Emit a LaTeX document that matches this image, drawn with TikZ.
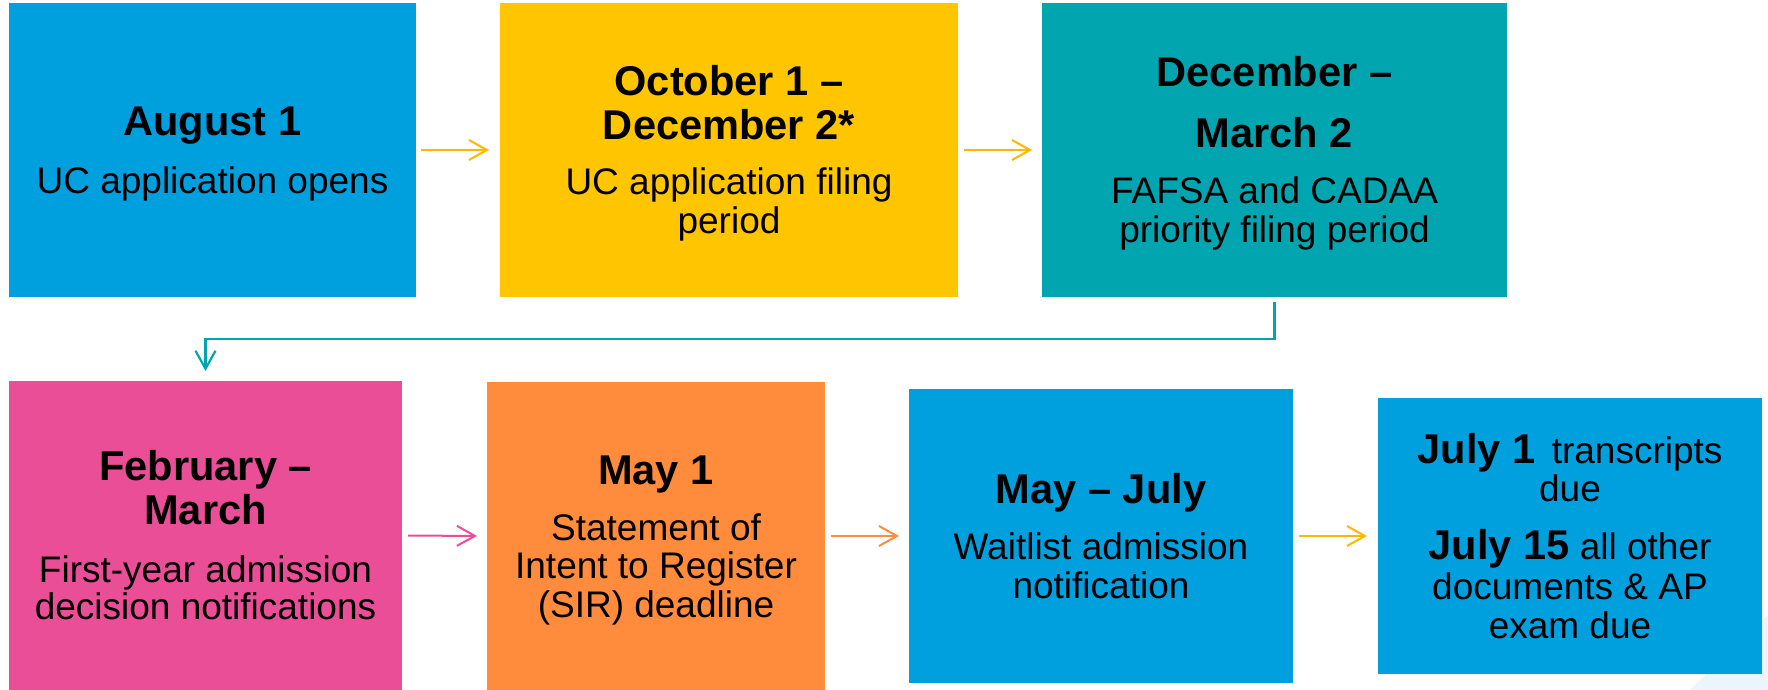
\documentclass[tikz,border=0pt]{standalone}
\usepackage{fontspec}
\setmainfont{Liberation Sans}
\usetikzlibrary{arrows.meta}
\definecolor{cblue}{RGB}{0,160,223}
\definecolor{cyellow}{RGB}{255,198,0}
\definecolor{cteal}{RGB}{0,165,176}
\definecolor{cpink}{RGB}{234,78,150}
\definecolor{corange}{RGB}{255,139,61}
\definecolor{carrowy}{RGB}{255,183,0}
\definecolor{cfaint}{RGB}{236,245,252}
\newcommand\BL[2]{\hbox to 0pt{\hss\vrule height #1 depth 0pt width 0pt\smash{#2}\hss}}
\newcommand\Bf[1]{{\fontsize{20.8pt}{24pt}\selectfont\bfseries #1}}
\newcommand\Rg[1]{{\fontsize{18.5pt}{22pt}\selectfont #1}}
\newcommand\Stk[1]{\vbox{\offinterlineskip #1}}
\tikzset{
  box/.style={inner sep=0pt, outer sep=0pt, text=black},
  arr/.style={line width=1pt, -{Straight Barb[length=9pt,width=10pt]}},
}
\begin{document}
\begin{tikzpicture}[x=0.5pt,y=-0.5pt]
\useasboundingbox (0,0) rectangle (1768,690);
\fill[cfaint] (1690,690) .. controls (1720,660) and (1745,635) .. (1768,615) -- (1768,690) -- cycle;

\node[box, fill=cblue, minimum width=203.5pt, minimum height=147pt] (b1) at (212.5,150)
  {\Stk{\BL{14.5pt}{\Bf{August 1}}
        \BL{28.5pt}{\Rg{UC application opens}}}};
\node[box, fill=cyellow, minimum width=229pt, minimum height=147pt] (b2) at (729,150)
  {\Stk{\BL{14.5pt}{\Bf{October 1 –}}
        \BL{22pt}{\Bf{December 2*}}
        \BL{27.5pt}{\Rg{UC application filing}}
        \BL{19.5pt}{\Rg{period}}}};
\node[box, fill=cteal, minimum width=232.5pt, minimum height=147pt] (b3) at (1274.5,150)
  {\Stk{\BL{14.5pt}{\Bf{December –}}
        \BL{30.5pt}{\Bf{March 2}}
        \BL{28pt}{\Rg{FAFSA and CADAA}}
        \BL{19.5pt}{\Rg{priority filing period}}}};
\node[box, fill=cpink, minimum width=196.5pt, minimum height=154.5pt] (b4) at (205.5,535.5)
  {\Stk{\BL{14.5pt}{\Bf{February –}}
        \BL{22pt}{\Bf{March}}
        \BL{29pt}{\Rg{First-year admission}}
        \BL{18.5pt}{\Rg{decision notifications}}}};
\node[box, fill=corange, minimum width=169pt, minimum height=154pt] (b5) at (656,536)
  {\Stk{\BL{14.5pt}{\Bf{May 1}}
        \BL{28pt}{\Rg{Statement of}}
        \BL{19pt}{\Rg{Intent to Register}}
        \BL{19.5pt}{\Rg{(SIR) deadline}}}};
\node[box, fill=cblue, minimum width=192pt, minimum height=147pt] (b6) at (1101,536)
  {\Stk{\BL{14.5pt}{\Bf{May – July}}
        \BL{28pt}{\Rg{Waitlist admission}}
        \BL{19.5pt}{\Rg{notification}}}};
\node[box, fill=cblue, minimum width=192pt, minimum height=138pt] (b7) at (1570,536)
  {\Stk{\BL{14.5pt}{\Bf{July 1}\hspace{3pt}\Rg{ transcripts}}
        \BL{19pt}{\Rg{due}}
        \BL{29pt}{\Bf{July 15}\Rg{ all other}}
        \BL{20pt}{\Rg{documents \& AP}}
        \BL{19.5pt}{\Rg{exam due}}}};

\coordinate (turn) at (740,339);
\draw[arr, carrowy] ([xshift=2.5pt]b1.east) -- ([xshift=-5.5pt]b2.west);
\draw[arr, carrowy] ([xshift=3pt]b2.east) -- ([xshift=-5pt]b3.west);
\draw[arr, cteal, line width=1.1pt] ([yshift=-2.5pt]b3.south) |- (turn) -| ([yshift=5pt]b4.north);
\draw[arr, cpink] ([xshift=3pt]b4.east) -- ([xshift=-5pt]b5.west);
\draw[arr, corange] ([xshift=3pt]b5.east) -- ([xshift=-5pt]b6.west);
\draw[arr, carrowy] ([xshift=3pt]b6.east) -- ([xshift=-5.5pt]b7.west);
\end{tikzpicture}
\end{document}
